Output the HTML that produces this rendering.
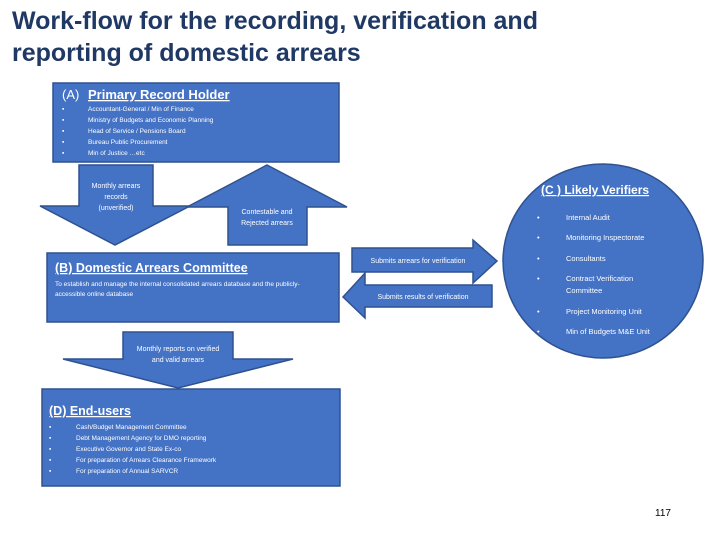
<!DOCTYPE html>
<html><head><meta charset="utf-8"><style>
html,body{margin:0;padding:0;background:#fff;}
svg{display:block;font-family:"Liberation Sans",sans-serif;}
</style></head><body>
<svg width="720" height="540" viewBox="0 0 720 540">
<text x="12" y="29" font-size="25" font-weight="bold" fill="#1f3864">Work-flow for the recording, verification and</text>
<text x="12" y="61" font-size="25" font-weight="bold" fill="#1f3864">reporting of domestic arrears</text>
<g fill="#4472c4" stroke="#2f528f" stroke-width="1.5">
<rect x="53" y="83" width="286" height="79"/>
<polygon points="79,165 153,165 153,206 190,206 115,245 40,206 79,206"/>
<polygon points="267,165 347,207 307,207 307,245 228,245 228,207 187,207"/>
<rect x="47" y="253" width="292" height="69"/>
<polygon points="352,248 473,248 473,240 497,261 473,283 473,272 352,272"/>
<polygon points="343,297 365,273 365,285 492,285 492,307 365,307 365,318"/>
<ellipse cx="603" cy="261" rx="100" ry="97"/>
<polygon points="123,332 233,332 233,359 293,359 178,388 63,359 123,359"/>
<rect x="42" y="389" width="298" height="97"/>
</g>
<g fill="#fff">
<text x="62" y="99" font-size="13">(A)</text>
<text x="88" y="99" font-size="13" font-weight="bold" text-decoration="underline">Primary Record Holder</text>
<g font-size="6.5">
<text x="62" y="111">▪</text><text x="88" y="111">Accountant-General / Min of Finance</text>
<text x="62" y="122">▪</text><text x="88" y="122">Ministry of Budgets and Economic Planning</text>
<text x="62" y="133">▪</text><text x="88" y="133">Head of Service / Pensions Board</text>
<text x="62" y="144">▪</text><text x="88" y="144">Bureau Public Procurement</text>
<text x="62" y="155">▪</text><text x="88" y="155">Min of Justice …etc</text>
</g>
<g font-size="7" text-anchor="middle">
<text x="116" y="188">Monthly arrears</text>
<text x="116" y="199">records</text>
<text x="116" y="210">(unverified)</text>
<text x="267" y="214">Contestable and</text>
<text x="267" y="225">Rejected arrears</text>
<text x="418" y="263">Submits arrears for verification</text>
<text x="423" y="299">Submits results of verification</text>
<text x="178" y="351">Monthly reports on verified</text>
<text x="178" y="362">and valid arrears</text>
</g>
<text x="55" y="272" font-size="12.5" font-weight="bold" text-decoration="underline">(B) Domestic Arrears Committee</text>
<text x="55" y="286" font-size="6.5">To establish and manage the internal consolidated arrears database and the publicly-</text>
<text x="55" y="296" font-size="6.5">accessible online database</text>
<text x="541" y="194" font-size="12" font-weight="bold" text-decoration="underline">(C ) Likely Verifiers</text>
<g font-size="7.5">
<text x="537" y="220">•</text><text x="566" y="220">Internal Audit</text>
<text x="537" y="240">•</text><text x="566" y="240">Monitoring Inspectorate</text>
<text x="537" y="261">•</text><text x="566" y="261">Consultants</text>
<text x="537" y="281">•</text><text x="566" y="281">Contract Verification</text>
<text x="566" y="293">Committee</text>
<text x="537" y="314">•</text><text x="566" y="314">Project Monitoring Unit</text>
<text x="537" y="334">•</text><text x="566" y="334">Min of Budgets M&amp;E Unit</text>
</g>
<text x="49" y="415" font-size="12.5" font-weight="bold" text-decoration="underline">(D) End-users</text>
<g font-size="6.5">
<text x="49" y="429">▪</text><text x="76" y="429">Cash/Budget Management Committee</text>
<text x="49" y="440">▪</text><text x="76" y="440">Debt Management Agency for DMO reporting</text>
<text x="49" y="451">▪</text><text x="76" y="451">Executive Governor and State Ex-co</text>
<text x="49" y="462">▪</text><text x="76" y="462">For preparation of Arrears Clearance Framework</text>
<text x="49" y="473">▪</text><text x="76" y="473">For preparation of Annual SARVCR</text>
</g>
</g>
<text x="655" y="516" font-size="10" fill="#000">117</text>
</svg>
</body></html>
